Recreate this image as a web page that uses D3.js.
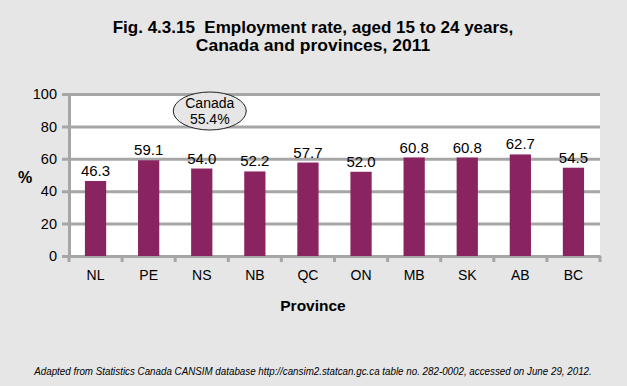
<!DOCTYPE html>
<html>
<head>
<meta charset="utf-8">
<script src="https://cdn.jsdelivr.net/npm/d3@7"></script>
<style>
    body { margin: 0; background: #e6e6e6; }
    svg { display: block; font-family: "Liberation Sans", Arial, sans-serif; }
    text { white-space: pre; }
</style>
</head>
<body>
<div id="view"></div>
<script>
var provinces = ["NL", "PE", "NS", "NB", "QC", "ON", "MB", "SK", "AB", "BC"];
var rates = [46.3, 59.1, 54.0, 52.2, 57.7, 52.0, 60.8, 60.8, 62.7, 54.5];
var yTicks = [0, 20, 40, 60, 80, 100];
var canadaRate = 55.4;

var size = {width: 627, height: 386};
var plot = {left: 69, right: 600, top: 94, bottom: 256};
var grid = "#a6a6a6";

var svg = d3.select("#view").append("svg")
    .attr("width", size.width)
    .attr("height", size.height)
;

var x = d3.scaleBand().domain(provinces).range([plot.left, plot.right]).paddingInner(0.6).paddingOuter(0.3);
var xTick = d3.scaleBand().domain(provinces).range([plot.left, plot.right]);
var y = d3.scaleLinear().domain([0, 100]).range([plot.bottom, plot.top]);

// plot area
svg.append("rect")
    .attr("x", plot.left)
    .attr("y", plot.top)
    .attr("width", plot.right - plot.left)
    .attr("height", plot.bottom - plot.top)
    .attr("fill", "#fff")
;

// gridlines + y axis
var yAxis = svg.append("g")
    .attr("transform", `translate(${plot.left}, 0)`)
    .call(d3.axisLeft(y).tickValues(yTicks).tickSize(-(plot.right - plot.left)).tickSizeOuter(0).tickPadding(12))
;
yAxis.select(".domain").attr("stroke", grid).attr("stroke-width", 3);
yAxis.selectAll(".tick line").attr("stroke", grid).attr("stroke-width", 3).attr("x1", -7);
yAxis.selectAll(".tick text").attr("font-size", 14.5).attr("fill", "#000").attr("font-family", "Liberation Sans, Arial, sans-serif");

// x axis
var xAxis = svg.append("g")
    .attr("transform", `translate(0, ${plot.bottom})`)
    .call(d3.axisBottom(xTick).tickSize(0).tickPadding(14))
;
xAxis.select(".domain").attr("stroke", grid).attr("stroke-width", 3);
xAxis.selectAll(".tick text").attr("font-size", 14).attr("fill", "#000").attr("font-family", "Liberation Sans, Arial, sans-serif");
xAxis.selectAll(".xt")
    .data(provinces.concat(["end"]))
    .enter().append("line")
    .attr("class", "xt")
    .attr("x1", (d, i) => i < provinces.length ? xTick(d) : plot.right)
    .attr("x2", (d, i) => i < provinces.length ? xTick(d) : plot.right)
    .attr("y1", 0)
    .attr("y2", 6)
    .attr("stroke", grid)
    .attr("stroke-width", 3)
;

// bars
svg.selectAll(".bar")
    .data(provinces)
    .enter().append("rect")
    .attr("class", "bar")
    .attr("x", d => x(d))
    .attr("width", x.bandwidth())
    .attr("y", (d, i) => y(rates[i]))
    .attr("height", (d, i) => y(0) - y(rates[i]))
    .attr("fill", "#8a2461")
;

svg.selectAll(".val")
    .data(provinces)
    .enter().append("text")
    .attr("class", "val")
    .attr("x", d => x(d) + x.bandwidth() / 2)
    .attr("y", (d, i) => y(rates[i]) - 5)
    .attr("text-anchor", "middle")
    .attr("font-size", 15)
    .text((d, i) => d3.format(".1f")(rates[i]))
;

// Canada callout
var callout = svg.append("g")
    .attr("transform", `translate(${xTick("NS") + xTick.bandwidth() / 2 + 8}, 111)`)
;
callout.append("ellipse")
    .attr("rx", 36.5)
    .attr("ry", 19)
    .attr("fill", "#e6e6e6")
    .attr("stroke", "#222")
    .attr("stroke-width", 1)
;
callout.append("text")
    .attr("y", -3)
    .attr("text-anchor", "middle")
    .attr("font-size", 14)
    .text("Canada")
;
callout.append("text")
    .attr("y", 13)
    .attr("text-anchor", "middle")
    .attr("font-size", 14)
    .text(d3.format(".1f")(canadaRate) + "%")
;

// condensed face is not installed, so squeeze the text horizontally
function label(cx, cy, sx) {
    return svg.append("text")
        .attr("transform", `translate(${cx}, ${cy}) scale(${sx}, 1)`)
        .attr("text-anchor", "middle")
    ;
}

label(313, 33, 1.0).attr("font-weight", "bold").attr("font-size", 17)
    .text("Fig. 4.3.15  Employment rate, aged 15 to 24 years,");
label(313, 51, 1.03).attr("font-weight", "bold").attr("font-size", 17)
    .text("Canada and provinces, 2011");

svg.append("text")
    .attr("x", 25)
    .attr("y", 183)
    .attr("text-anchor", "middle")
    .attr("font-weight", "bold")
    .attr("font-size", 16)
    .text("%")
;

label(313, 311, 1).attr("font-weight", "bold").attr("font-size", 15.5)
    .text("Province");

label(313, 375, 0.89).attr("font-style", "italic").attr("font-size", 11)
    .text("Adapted from Statistics Canada CANSIM database http://cansim2.statcan.gc.ca table no. 282-0002, accessed on June 29, 2012.");
</script>
</body>
</html>
